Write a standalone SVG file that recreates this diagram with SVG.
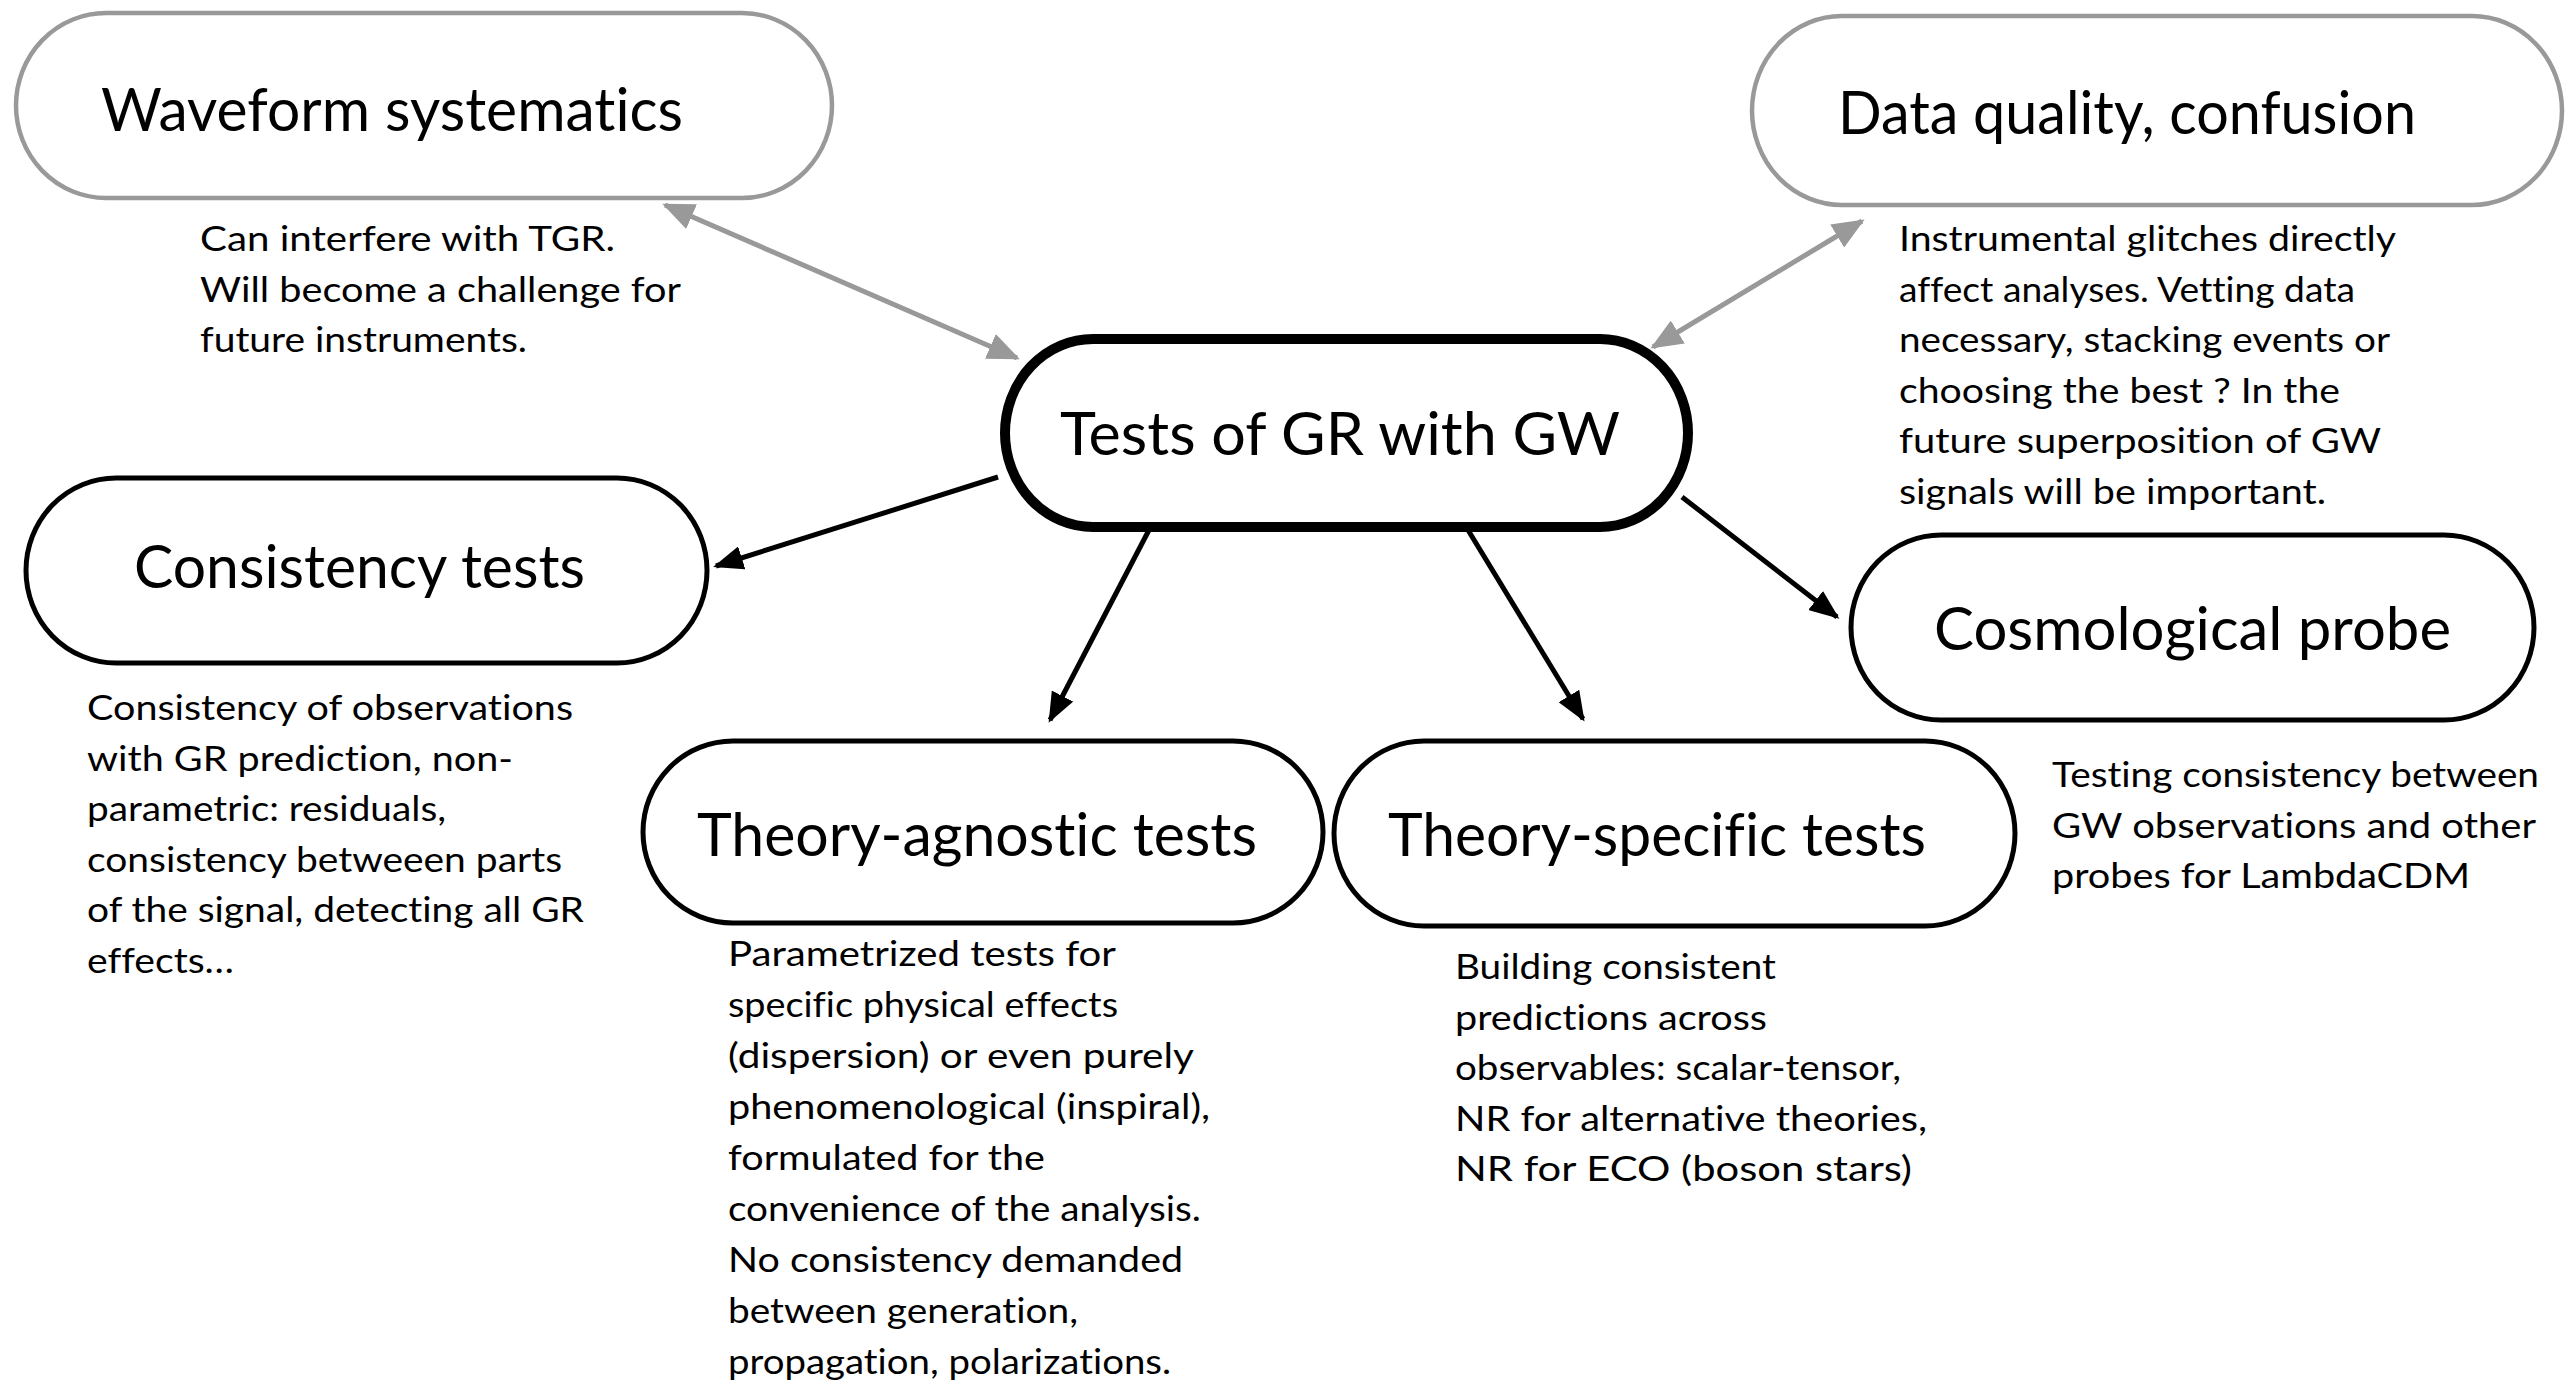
<svg xmlns="http://www.w3.org/2000/svg" width="2567" height="1382" viewBox="0 0 2567 1382">
<style>
.bg{fill:#fff}
.pill{fill:#fff;stroke:#000;stroke-width:5}
.gray{stroke:#999;stroke-width:4.5}
.main{stroke-width:10}
text{font-variant-ligatures:none;font-feature-settings:"liga" 0}
.title{font-family:Lato,"Liberation Sans",sans-serif;font-size:60px;fill:#000}
.desc{font-family:Lato,"Liberation Sans",sans-serif;font-size:35px;fill:#000}
.ak{stroke:#000;stroke-width:5;fill:none}
.ag{stroke:#999;stroke-width:5;fill:none}
</style>
<defs>
<marker id="hk" markerUnits="userSpaceOnUse" markerWidth="30" markerHeight="24" refX="27" refY="12" orient="auto-start-reverse"><path d="M0,0 L30,12 L0,24 z" fill="#000"/></marker>
<marker id="hg" markerUnits="userSpaceOnUse" markerWidth="32" markerHeight="27" refX="29" refY="13.5" orient="auto-start-reverse"><path d="M0,0 L32,13.5 L0,27 z" fill="#999"/></marker>
</defs>
<rect class="bg" x="0" y="0" width="2567" height="1382"/>
<g id="connectors">
<line class="ag" x1="665" y1="205" x2="1017" y2="358" marker-start="url(#hg)" marker-end="url(#hg)"/>
<line class="ag" x1="1862" y1="221" x2="1653" y2="347" marker-start="url(#hg)" marker-end="url(#hg)"/>
<line class="ak" x1="998" y1="477" x2="716" y2="566" marker-end="url(#hk)"/>
<line class="ak" x1="1149" y1="530" x2="1050" y2="720" marker-end="url(#hk)"/>
<line class="ak" x1="1468" y1="530" x2="1583" y2="719" marker-end="url(#hk)"/>
<line class="ak" x1="1682" y1="497" x2="1837" y2="617" marker-end="url(#hk)"/>
</g>
<g id="waveform">
<rect class="pill gray" x="16" y="13" width="816" height="185" rx="90" ry="92.5"/>
<text class="title" x="101" y="131" textLength="582" lengthAdjust="spacingAndGlyphs">Waveform systematics</text>
<text class="desc" x="200" y="251" textLength="415" lengthAdjust="spacingAndGlyphs">Can interfere with TGR.</text>
<text class="desc" x="200" y="302" textLength="481" lengthAdjust="spacingAndGlyphs">Will become a challenge for</text>
<text class="desc" x="200" y="352" textLength="327" lengthAdjust="spacingAndGlyphs">future instruments.</text>
</g>
<g id="dataquality">
<rect class="pill gray" x="1752" y="16" width="810" height="189" rx="90" ry="94.5"/>
<text class="title" x="1838" y="134" textLength="578" lengthAdjust="spacingAndGlyphs">Data quality, confusion</text>
<text class="desc" x="1899" y="251" textLength="497" lengthAdjust="spacingAndGlyphs">Instrumental glitches directly</text>
<text class="desc" x="1899" y="301.5" textLength="456" lengthAdjust="spacingAndGlyphs">affect analyses. Vetting data</text>
<text class="desc" x="1899" y="352" textLength="491" lengthAdjust="spacingAndGlyphs">necessary, stacking events or</text>
<text class="desc" x="1899" y="402.5" textLength="441" lengthAdjust="spacingAndGlyphs">choosing the best ? In the</text>
<text class="desc" x="1899" y="453" textLength="482" lengthAdjust="spacingAndGlyphs">future superposition of GW</text>
<text class="desc" x="1899" y="503.5" textLength="427" lengthAdjust="spacingAndGlyphs">signals will be important.</text>
</g>
<g id="center">
<rect class="pill main" x="1005" y="339" width="683" height="188" rx="88" ry="94"/>
<text class="title" x="1060" y="455" textLength="560" lengthAdjust="spacingAndGlyphs">Tests of GR with GW</text>
</g>
<g id="consistency">
<rect class="pill" x="26" y="478" width="681" height="185" rx="90" ry="92.5"/>
<text class="title" x="134" y="588" textLength="451" lengthAdjust="spacingAndGlyphs">Consistency tests</text>
<text class="desc" x="87" y="720" textLength="486" lengthAdjust="spacingAndGlyphs">Consistency of observations</text>
<text class="desc" x="87" y="770.5" textLength="426" lengthAdjust="spacingAndGlyphs">with GR prediction, non-</text>
<text class="desc" x="87" y="821" textLength="359" lengthAdjust="spacingAndGlyphs">parametric: residuals,</text>
<text class="desc" x="87" y="871.5" textLength="475" lengthAdjust="spacingAndGlyphs">consistency betweeen parts</text>
<text class="desc" x="87" y="922" textLength="497" lengthAdjust="spacingAndGlyphs">of the signal, detecting all GR</text>
<text class="desc" x="87" y="972.5" textLength="147" lengthAdjust="spacingAndGlyphs">effects…</text>
</g>
<g id="agnostic">
<rect class="pill" x="643" y="741" width="680" height="182" rx="90" ry="91"/>
<text class="title" x="697" y="856" textLength="560" lengthAdjust="spacingAndGlyphs">Theory-agnostic tests</text>
<text class="desc" x="728" y="966" textLength="388" lengthAdjust="spacingAndGlyphs">Parametrized tests for</text>
<text class="desc" x="728" y="1017" textLength="390" lengthAdjust="spacingAndGlyphs">specific physical effects</text>
<text class="desc" x="728" y="1068" textLength="466" lengthAdjust="spacingAndGlyphs">(dispersion) or even purely</text>
<text class="desc" x="728" y="1119" textLength="482" lengthAdjust="spacingAndGlyphs">phenomenological (inspiral),</text>
<text class="desc" x="728" y="1170" textLength="317" lengthAdjust="spacingAndGlyphs">formulated for the</text>
<text class="desc" x="728" y="1221" textLength="473" lengthAdjust="spacingAndGlyphs">convenience of the analysis.</text>
<text class="desc" x="728" y="1272" textLength="455" lengthAdjust="spacingAndGlyphs">No consistency demanded</text>
<text class="desc" x="728" y="1323" textLength="350" lengthAdjust="spacingAndGlyphs">between generation,</text>
<text class="desc" x="728" y="1374" textLength="443" lengthAdjust="spacingAndGlyphs">propagation, polarizations.</text>
</g>
<g id="specific">
<rect class="pill" x="1334" y="741" width="681" height="185" rx="90" ry="92.5"/>
<text class="title" x="1388" y="856" textLength="538" lengthAdjust="spacingAndGlyphs">Theory-specific tests</text>
<text class="desc" x="1455" y="979" textLength="321" lengthAdjust="spacingAndGlyphs">Building consistent</text>
<text class="desc" x="1455" y="1029.5" textLength="312" lengthAdjust="spacingAndGlyphs">predictions across</text>
<text class="desc" x="1455" y="1080" textLength="446" lengthAdjust="spacingAndGlyphs">observables: scalar-tensor,</text>
<text class="desc" x="1455" y="1130.5" textLength="472" lengthAdjust="spacingAndGlyphs">NR for alternative theories,</text>
<text class="desc" x="1455" y="1181" textLength="457" lengthAdjust="spacingAndGlyphs">NR for ECO (boson stars)</text>
</g>
<g id="cosmo">
<rect class="pill" x="1851" y="535" width="683" height="185" rx="90" ry="92.5"/>
<text class="title" x="1934" y="650" textLength="517" lengthAdjust="spacingAndGlyphs">Cosmological probe</text>
<text class="desc" x="2052" y="787" textLength="487" lengthAdjust="spacingAndGlyphs">Testing consistency between</text>
<text class="desc" x="2052" y="837.5" textLength="484" lengthAdjust="spacingAndGlyphs">GW observations and other</text>
<text class="desc" x="2052" y="888" textLength="418" lengthAdjust="spacingAndGlyphs">probes for LambdaCDM</text>
</g>
</svg>
